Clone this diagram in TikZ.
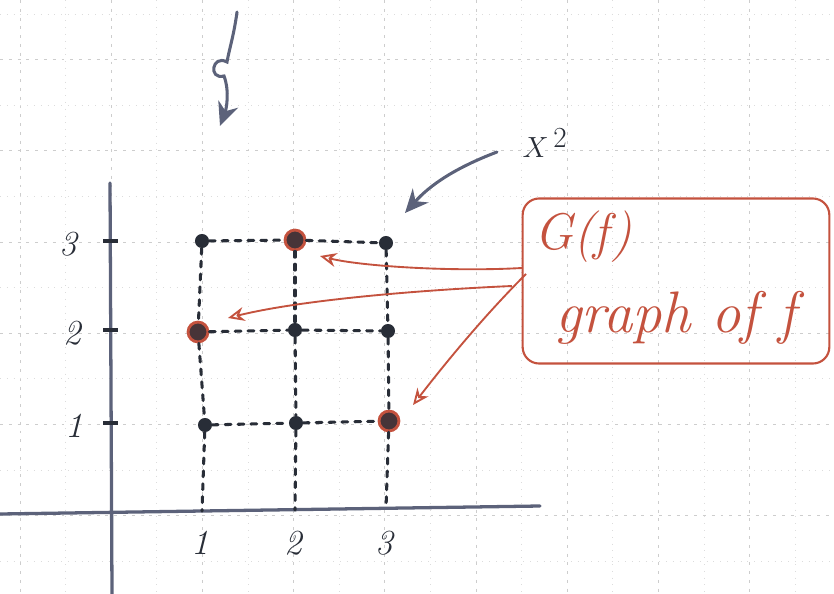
\documentclass[tikz,border=0pt]{standalone}
\usetikzlibrary{arrows.meta}
\definecolor{axisc}{RGB}{92,98,122}
\definecolor{inkc}{RGB}{40,45,55}
\definecolor{redc}{RGB}{196,82,62}
\definecolor{gridc}{RGB}{205,205,205}
\begin{document}
\begin{tikzpicture}[x=0.03cm,y=-0.03cm,
  gridmajor/.style={gridc,line width=0.6pt,dash pattern=on 2.5pt off 5pt},
  gridminor/.style={gridc!70,line width=0.6pt,dash pattern=on 0.8pt off 5pt},
  axisline/.style={axisc,line width=2.8pt,line cap=round},
  dotline/.style={inkc,line width=2.6pt,dash pattern=on 5pt off 6pt,line cap=round},
  pt/.style={circle,fill=inkc,inner sep=0pt,minimum size=12pt},
  redpt/.style={circle,fill=inkc!80!redc,draw=redc,line width=2.4pt,inner sep=0pt,minimum size=17pt},
  num/.style={inkc,font=\fontsize{30}{34}\selectfont\itshape},
  redarrow/.style={redc,line width=1.6pt,-{Stealth[length=14pt,width=12pt,open]}},
  inkarrow/.style={axisc,line width=2.6pt,line cap=round,-{Stealth[length=20pt,width=18pt]}},
  labelbox/.style={draw=redc,line width=1.8pt,rounded corners=14pt,minimum width=9.2cm,minimum height=4.95cm}
]
\useasboundingbox (0,0) rectangle (834,594);
% grid paper
\foreach \k in {0,...,9} {
  \draw[gridmajor] ({20+91.2*\k},0) -- ({20+91.2*\k},594);
  \draw[gridminor] ({65.6+91.2*\k},0) -- ({65.6+91.2*\k},594);
}
\foreach \k in {-3,...,3} {
  \draw[gridmajor] (0,{242+91.2*\k}) -- (834,{242+91.2*\k});
  \draw[gridminor] (0,{287.6+91.2*\k}) -- (834,{287.6+91.2*\k});
}
% axes
\coordinate (ytop) at (110,183);
\coordinate (ybot) at (112,594);
\coordinate (xleft) at (0,514);
\coordinate (xright) at (540,506);
\draw[axisline] (ytop) -- (ybot);
\draw[axisline] (xleft) -- (xright);
% ticks
\foreach \yy/\lab/\lx in {241/3/68,330/2/72,423/1/74} {
  \coordinate (ytl\lab) at (103,\yy);
  \coordinate (ytr\lab) at (118,\yy);
  \draw[inkc,line width=2.6pt] (ytl\lab) -- (ytr\lab);
  \node[num] (ylab\lab) at (\lx,\yy+3) {\lab};
}
\foreach \xx/\lab/\yb in {202/1/511,295/2/510,386/3/508} {
  \coordinate (xt\lab) at (\xx,\yb);
  \node[num] (xlab\lab) at (\xx-2,543) {\lab};
}
% points
\node[pt] (p13) at (202,241) {};
\node[redpt] (p23) at (295,240) {};
\node[pt] (p33) at (386,243) {};
\node[redpt] (p12) at (198,332) {};
\node[pt] (p22) at (295,330) {};
\node[pt] (p32) at (388,331) {};
\node[pt] (p11) at (205,425) {};
\node[pt] (p21) at (296,423) {};
\node[redpt] (p31) at (389,421) {};
% dashed lines
\draw[dotline] (p13) -- (p23);
\draw[dotline] (p23) -- (p33);
\draw[dotline] (p12) -- (p22);
\draw[dotline] (p22) -- (p32);
\draw[dotline] (p11) -- (p21);
\draw[dotline] (p21) -- (p31);
\draw[dotline] (p13) -- (p12);
\draw[dotline] (p12) -- (p11);
\draw[dotline] (p11) -- (xt1);
\draw[dotline] (p23) -- (p22);
\draw[dotline] (p22) -- (p21);
\draw[dotline] (p21) -- (xt2);
\draw[dotline] (p33) -- (p32);
\draw[dotline] (p32) -- (p31);
\draw[dotline] (p31) -- (xt3);
% top arrow with loop
\coordinate (ts) at (237,12);
\coordinate (te) at (220,126);
\draw[inkarrow] (ts) .. controls (234,35) and (229,50) .. (227,62)
  .. controls (212,54) and (208,80) .. (224,76)
  .. controls (230,92) and (226,110) .. (te);
% X^2 label and arrow
\node[inkc,font=\fontsize{36}{40}\selectfont] (xsq) at (545,143) {$X^{\,2}$};
\coordinate (xs) at (497,152);
\coordinate (xe) at (405,213);
\draw[inkarrow] (xs) .. controls (455,168) and (430,185) .. (xe);
% red box
\node[labelbox] (box) at (676,281) {};
\node[redc,font=\fontsize{44}{48}\selectfont\itshape,anchor=west] (gf) at (530,237) {G(f)};
\node[redc,font=\fontsize{50}{54}\selectfont\itshape] (gof) at (676,318) {graph of f};
\coordinate (b1) at (522,268);
\coordinate (b2) at (512,286);
\coordinate (b3) at (526,274);
\coordinate (t1) at (320,256);
\coordinate (t2) at (228,318);
\coordinate (t3) at (413,405);
\draw[redarrow] (b1) .. controls (450,272) and (360,266) .. (t1);
\draw[redarrow] (b2) .. controls (420,290) and (300,300) .. (t2);
\draw[redarrow] (b3) .. controls (480,320) and (440,370) .. (t3);
\end{tikzpicture}
\end{document}
